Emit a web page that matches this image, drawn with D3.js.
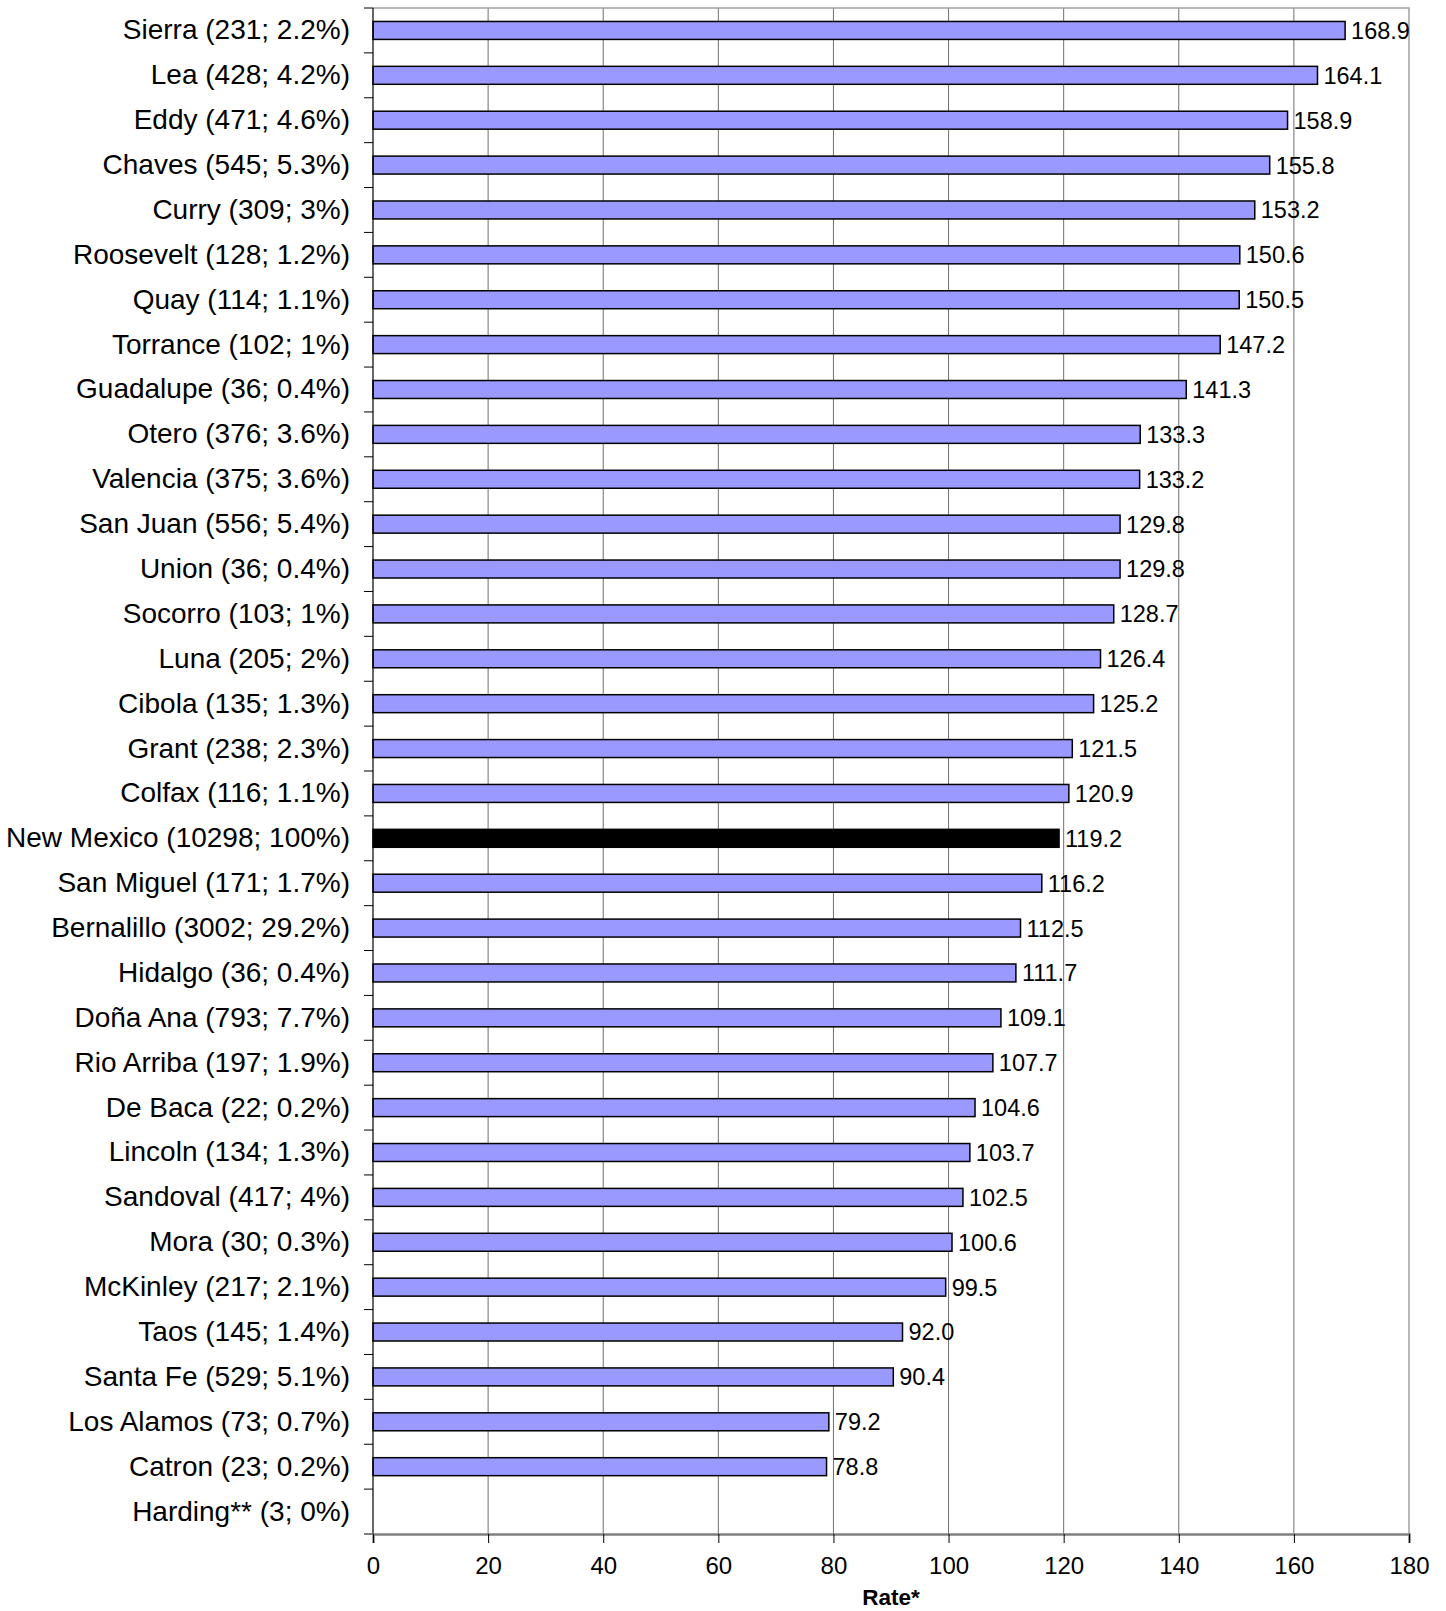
<!DOCTYPE html>
<html>
<head>
<meta charset="utf-8">
<title>Rate by county</title>
<style>
  body { margin: 0; background: #fff; }
  text { font-family: "Liberation Sans", Arial, sans-serif; fill: #000; }
</style>
</head>
<body>
<script src="https://d3js.org/d3.v7.min.js"></script>
<script>
// data, top to bottom as in the chart
var counties = ["Sierra", "Lea", "Eddy", "Chaves", "Curry", "Roosevelt", "Quay", "Torrance",
  "Guadalupe", "Otero", "Valencia", "San Juan", "Union", "Socorro", "Luna", "Cibola", "Grant",
  "Colfax", "New Mexico", "San Miguel", "Bernalillo", "Hidalgo", "Doña Ana", "Rio Arriba",
  "De Baca", "Lincoln", "Sandoval", "Mora", "McKinley", "Taos", "Santa Fe", "Los Alamos",
  "Catron", "Harding**"];
var deaths = [231, 428, 471, 545, 309, 128, 114, 102, 36, 376, 375, 556, 36, 103, 205, 135, 238,
  116, 10298, 171, 3002, 36, 793, 197, 22, 134, 417, 30, 217, 145, 529, 73, 23, 3];
var shares = ["2.2", "4.2", "4.6", "5.3", "3", "1.2", "1.1", "1", "0.4", "3.6", "3.6", "5.4", "0.4",
  "1", "2", "1.3", "2.3", "1.1", "100", "1.7", "29.2", "0.4", "7.7", "1.9", "0.2", "1.3", "4",
  "0.3", "2.1", "1.4", "5.1", "0.7", "0.2", "0"];
var rates = [168.9, 164.1, 158.9, 155.8, 153.2, 150.6, 150.5, 147.2, 141.3, 133.3, 133.2, 129.8,
  129.8, 128.7, 126.4, 125.2, 121.5, 120.9, 119.2, 116.2, 112.5, 111.7, 109.1, 107.7, 104.6,
  103.7, 102.5, 100.6, 99.5, 92.0, 90.4, 79.2, 78.8, null];
var xTicks = [0, 20, 40, 60, 80, 100, 120, 140, 160, 180];
var stateName = "New Mexico";

var margin = {top: 8, right: 37, bottom: 77, left: 373},
    W = 1446, H = 1611,
    width = W - margin.left - margin.right,
    height = H - margin.top - margin.bottom;

var rows = counties.map(function(c, i) {
  return {name: c, label: c + " (" + deaths[i] + "; " + shares[i] + "%)", rate: rates[i]};
});

var svg = d3.select("body").append("svg")
    .attr("width", W).attr("height", H);
var g = svg.append("g")
    .attr("transform", "translate(" + margin.left + "," + margin.top + ")");

var x = d3.scaleLinear().domain([0, 180]).range([0, width]);
var y = d3.scaleBand().domain(counties).range([0, height])
    .paddingInner(0.6).paddingOuter(0.3);

// gridlines
g.selectAll(".grid").data(xTicks.slice(1, -1)).enter().append("line")
    .attr("x1", function(d) { return x(d); }).attr("x2", function(d) { return x(d); })
    .attr("y1", 0).attr("y2", height)
    .attr("stroke", "#707070").attr("stroke-width", 1);

// plot frame (top / right)
g.append("path")
    .attr("d", "M0,0H" + width + "V" + height)
    .attr("fill", "none").attr("stroke", "#a0a0a0").attr("stroke-width", 1.5);

// bars
g.selectAll(".bar").data(rows.filter(function(d) { return d.rate != null; }))
  .enter().append("rect")
    .attr("x", x(0))
    .attr("y", function(d) { return y(d.name); })
    .attr("width", function(d) { return x(d.rate) - x(0); })
    .attr("height", y.bandwidth())
    .attr("fill", function(d) { return d.name === stateName ? "#000" : "#9999ff"; })
    .attr("stroke", "#000").attr("stroke-width", 1.5);

// value labels
g.selectAll(".val").data(rows.filter(function(d) { return d.rate != null; }))
  .enter().append("text")
    .attr("x", function(d) { return x(d.rate) + 6; })
    .attr("y", function(d) { return y(d.name) + y.bandwidth() / 2; })
    .attr("dy", "0.36em")
    .style("font-size", "23.5px")
    .text(function(d) { return d.rate.toFixed(1); });

// y axis: labels
var yAxis = g.append("g")
    .call(d3.axisLeft(y).tickSize(0).tickPadding(23)
      .tickFormat(function(d, i) { return rows[i].label; }));
yAxis.select(".domain").remove();
yAxis.selectAll("text").style("font-size", "28px")
    .style("font-family", "'Liberation Sans', Arial, sans-serif");

// y axis: boundary ticks
var step = y.step();
g.selectAll(".ytick").data(d3.range(counties.length + 1)).enter().append("line")
    .attr("x1", -9).attr("x2", 0)
    .attr("y1", function(i) { return i * step; })
    .attr("y2", function(i) { return i * step; })
    .attr("stroke", "#000").attr("stroke-width", 1);

g.append("line")
    .attr("x1", 0).attr("x2", 0).attr("y1", 0).attr("y2", height)
    .attr("stroke", "#000").attr("stroke-width", 1.2);

// x axis
var xAxis = g.append("g")
    .attr("transform", "translate(0," + height + ")")
    .call(d3.axisBottom(x).tickValues(xTicks).tickSize(9).tickPadding(14));
xAxis.select(".domain").attr("stroke", "#808080").attr("stroke-width", 2.5);
xAxis.selectAll(".tick line").attr("stroke", "#000");
xAxis.selectAll("text").style("font-size", "24px")
    .style("font-family", "'Liberation Sans', Arial, sans-serif");

g.append("text")
    .attr("x", width / 2).attr("y", height + 71)
    .attr("text-anchor", "middle")
    .style("font-size", "22.5px").style("font-weight", "bold")
    .text("Rate*");
</script>
</body>
</html>
